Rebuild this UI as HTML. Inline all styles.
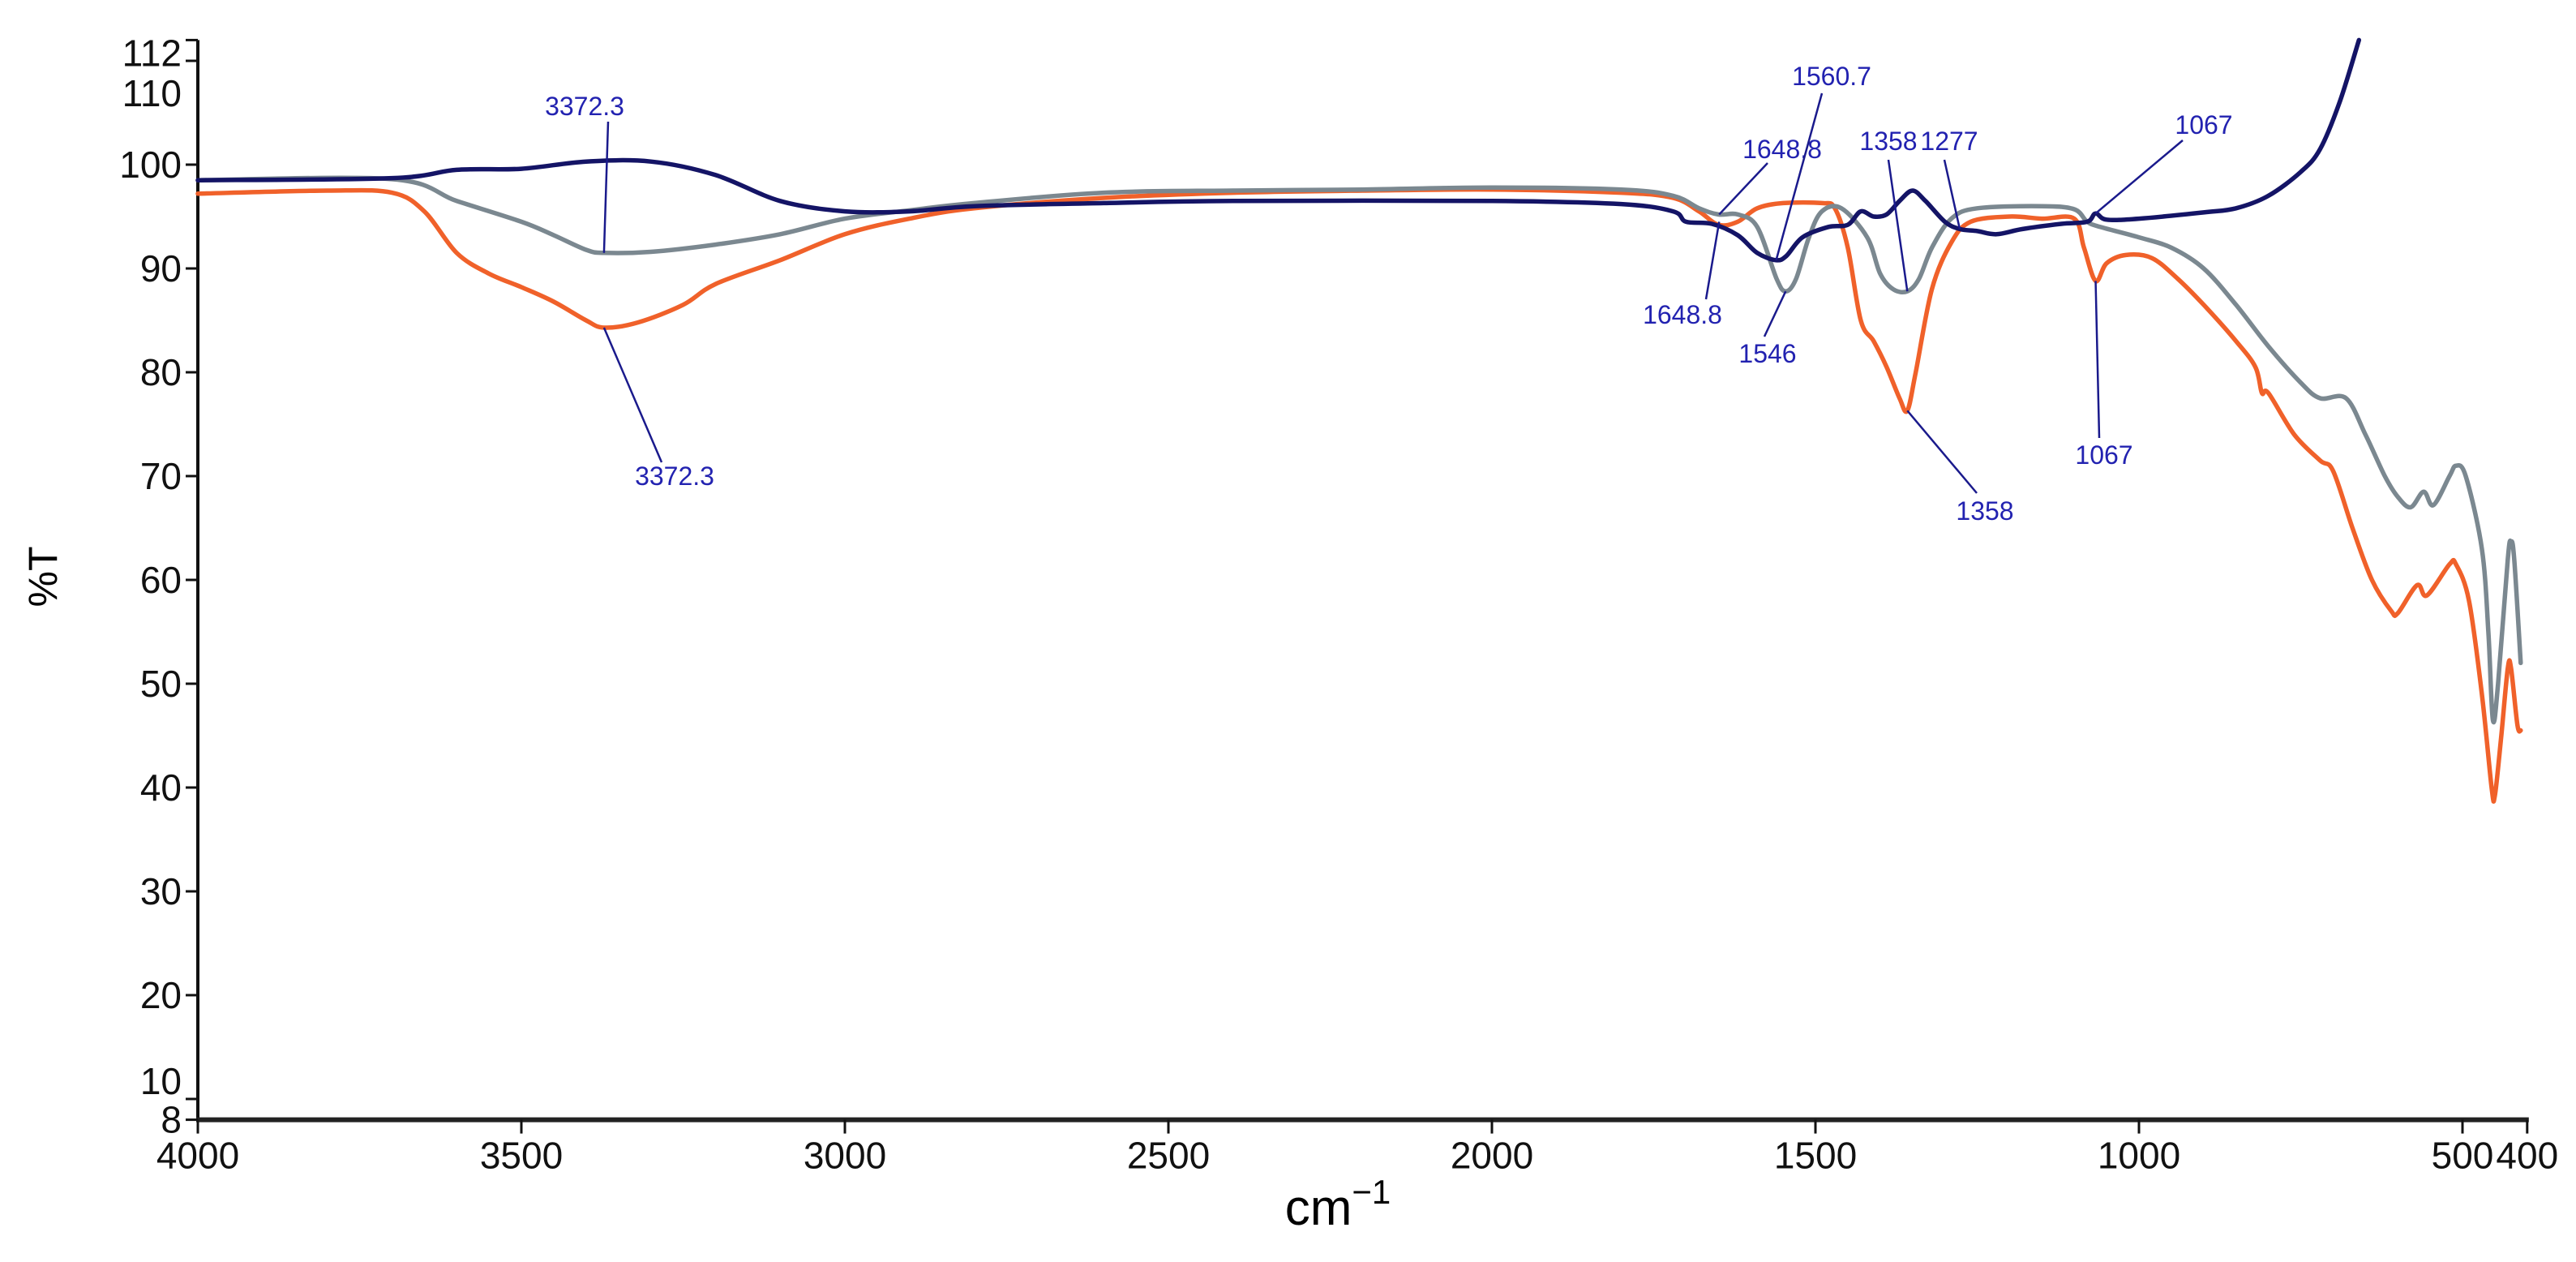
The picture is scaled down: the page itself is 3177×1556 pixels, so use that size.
<!DOCTYPE html>
<html><head><meta charset="utf-8"><style>
html,body{margin:0;padding:0;background:#fff;}
svg{display:block;font-family:"Liberation Sans",Arial,sans-serif;}
</style></head><body>
<svg id="chart" width="3177" height="1556" viewBox="0 0 3177 1556">
<g id="axes"></g>
<g id="series"></g>
<g id="annots"></g>
<text x="70" y="711" font-size="50" text-anchor="middle" transform="rotate(-90 70 711)">%T</text>
<text x="1650" y="1510" font-size="62" text-anchor="middle">cm<tspan font-size="42" dy="-26">−1</tspan></text>
</svg>
<script>
const xTicks=[4000,3500,3000,2500,2000,1500,1000,500,400];
const yTicks=[112,110,100,90,80,70,60,50,40,30,20,10,8];
const navyWn=[4000,3700,3600,3500,3400,3300,3200,3100,3000,2900,2800,2600,2400,2000,1800,1720,1700,1660,1620,1590,1561,1545,1520,1480,1450,1430,1410,1390,1370,1350,1330,1300,1277,1250,1220,1180,1120,1080,1067,1050,1000,900,850,800,750,720,690,660];
const navyT=[98.5,98.7,99.5,99.6,100.3,100.3,99,96.5,95.5,95.5,96,96.3,96.5,96.5,96.2,95.5,94.5,94.3,93.2,91.5,90.8,91.2,93,94,94.2,95.5,95,95.2,96.5,97.5,96.5,94.5,93.8,93.6,93.3,93.8,94.3,94.5,95.3,94.7,94.8,95.4,95.8,97,99.3,101.5,106,112];
const greyWn=[4000,3700,3600,3500,3450,3400,3372,3300,3200,3100,3000,2900,2800,2600,2400,2200,2000,1800,1720,1680,1650,1620,1590,1560,1546,1530,1510,1490,1460,1420,1400,1380,1358,1340,1320,1290,1250,1150,1100,1080,1060,1000,950,900,850,800,750,720,680,650,620,600,580,560,545,520,510,495,470,460,453,445,430,425,420,410];
const greyT=[98.5,98.6,96.5,94.5,93.2,91.8,91.5,91.6,92.3,93.3,94.8,95.6,96.3,97.3,97.5,97.6,97.8,97.6,97,95.8,95.2,95.2,94,89,87.8,89,93,95.5,95.8,93,89.5,88,87.8,89,92,94.8,95.8,96,95.7,94.5,94,93,92,90,86.5,82.5,79,77.5,77.5,74,70,68,67,68.5,67.2,70,71,70,63,55,46.5,50,62,63.7,62,52];
const orangeWn=[4000,3800,3700,3650,3600,3550,3500,3450,3400,3372,3320,3250,3200,3100,3000,2900,2800,2600,2400,2200,2000,1800,1720,1680,1650,1620,1590,1550,1490,1470,1450,1430,1410,1390,1370,1358,1345,1320,1290,1260,1200,1150,1100,1085,1067,1050,1020,980,940,900,850,820,810,800,760,720,700,670,640,610,600,570,555,520,510,490,470,455,450,440,430,425,415,410];
const orangeT=[97.2,97.5,97.3,95.5,91.5,89.5,88.2,86.8,85,84.3,84.8,86.5,88.5,90.8,93.3,94.8,95.8,96.8,97.3,97.5,97.6,97.3,96.8,95.5,94.2,94.5,95.8,96.3,96.3,95.8,92,85,83,80.5,77.5,76.3,80,88,92.5,94.5,95,94.8,94.8,92,88.8,90.5,91.3,91,89,86.5,83,80.5,78,78,74,71.5,70.5,65,60,57,56.8,59.5,58.5,61.5,61.5,58,49,40,39.2,45,51.5,51.5,46,45.5];
const annText=["3372.3","3372.3","1648.8","1560.7","1358","1277","1648.8","1546","1358","1067","1067"];
const annWn=[3372.3,3372.3,1648.8,1560.7,1358,1277,1648.8,1546,1358,1067,1067];
const annT=[91.5,84.3,95.2,90.8,87.8,93.8,94.5,87.8,76.3,88.8,95.3];

const NS="http://www.w3.org/2000/svg";
function X(w){return 244+(4000-w)*0.798;}
function Y(v){return 203+(100-v)*12.8;}
function mk(tag,attrs,parent){const e=document.createElementNS(NS,tag);for(const k in attrs)e.setAttribute(k,attrs[k]);parent.appendChild(e);return e;}
const axes=document.getElementById('axes');
let l=mk('line',{x1:244,y1:Y(112),x2:244,y2:Y(8)+2,stroke:'#111','stroke-width':4},axes);


l=mk('line',{x1:242,y1:Y(8),x2:X(400)+2,y2:Y(8),stroke:'#222','stroke-width':6},axes);


const yOff={112:16,110:40,10:-22,8:0};
yTicks.forEach(v=>{
  const t=mk('line',{x1:229,y1:Y(v),x2:244,y2:Y(v),stroke:'#111','stroke-width':3},axes);
  
  
  const tx=mk('text',{x:224,y:Y(v)+16+(yOff[v]||0),'font-size':46,'text-anchor':'end',fill:'#111'},axes);
  tx.textContent=v;
  
  
});
xTicks.forEach(w=>{
  const t=mk('line',{x1:X(w),y1:Y(8),x2:X(w),y2:Y(8)+17,stroke:'#111','stroke-width':3},axes);
  
  
  const tx=mk('text',{x:X(w),y:Y(8)+60,'font-size':46,'text-anchor':'middle',fill:'#111'},axes);
  tx.textContent=w;
  
  
});
const ser=document.getElementById('series');
function smoothPath(pts){
  let d='M'+pts[0][0].toFixed(1)+','+pts[0][1].toFixed(1);
  for(let i=0;i<pts.length-1;i++){
    const p0=pts[Math.max(0,i-1)],p1=pts[i],p2=pts[i+1],p3=pts[Math.min(pts.length-1,i+2)];
    const c1x=p1[0]+(p2[0]-p0[0])/6,c1y=p1[1]+(p2[1]-p0[1])/6;
    const c2x=p2[0]-(p3[0]-p1[0])/6,c2y=p2[1]-(p3[1]-p1[1])/6;
    d+=' C'+c1x.toFixed(1)+','+c1y.toFixed(1)+' '+c2x.toFixed(1)+','+c2y.toFixed(1)+' '+p2[0].toFixed(1)+','+p2[1].toFixed(1);
  }
  return d;
}
function drawLine(wn,t,color,name){
  const pts=wn.map((w,i)=>[X(w),Y(t[i])]);
  const p=mk('path',{d:smoothPath(pts),fill:'none',stroke:color,'stroke-width':5.5,'stroke-linejoin':'round','stroke-linecap':'round'},ser);
  
  
}
drawLine(orangeWn,orangeT,'#f0612a','series-orange');
drawLine(greyWn,greyT,'#7b8890','series-grey');
drawLine(navyWn,navyT,'#141466','series-navy');
const annLab=[[721,142],[832,598],[2198,195],[2259,105],[2329,185],[2404,185],[2075,399],[2180,447],[2448,641],[2595,572],[2718,165]];
const annLineStart=[[750,150],[816,570],[2180,201],[2247,115],[2329,197],[2398,197],[2104,369],[2176,415],[2438,608],[2589,540],[2692,173]];
const an=document.getElementById('annots');
annText.forEach((s,i)=>{
  const ln=mk('line',{x1:annLineStart[i][0],y1:annLineStart[i][1],x2:X(annWn[i]),y2:Y(annT[i]),stroke:'#1a1a8c','stroke-width':2.5},an);
  
  
  const tx=mk('text',{x:annLab[i][0],y:annLab[i][1],'font-size':32,'text-anchor':'middle',fill:'#2222b0'},an);
  tx.textContent=s;
  
  
});
</script>
</body></html>
